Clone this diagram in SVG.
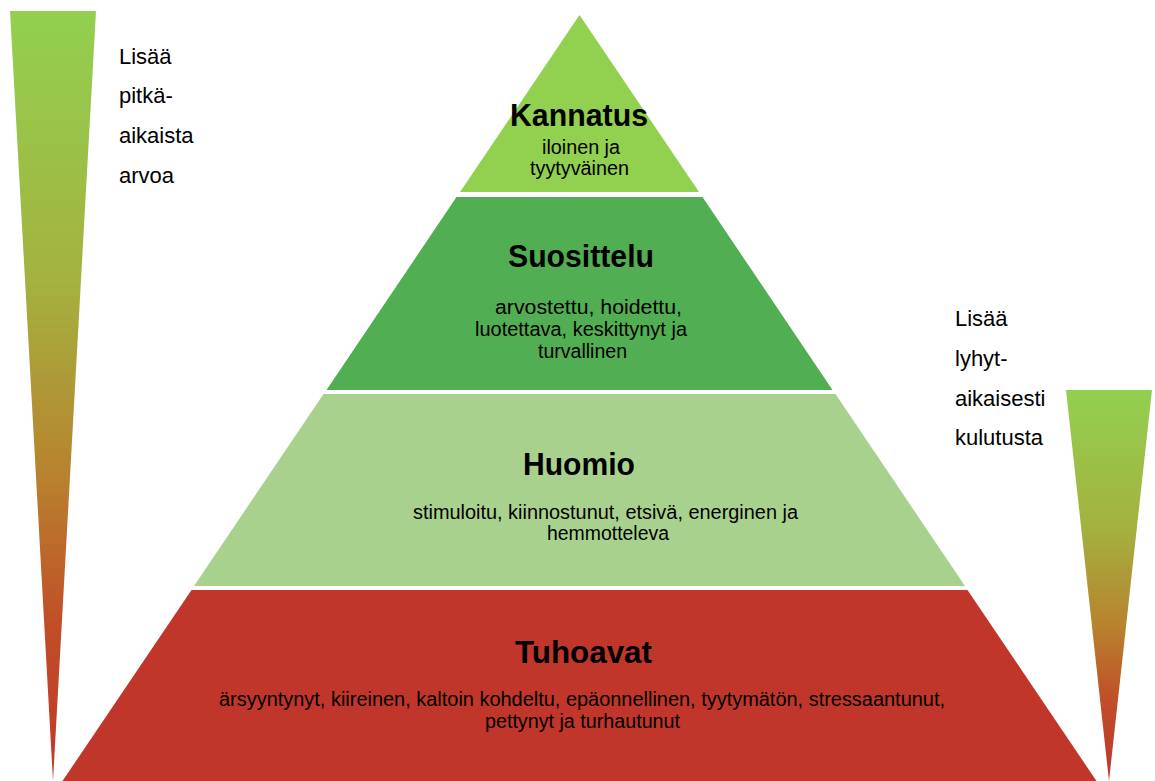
<svg xmlns="http://www.w3.org/2000/svg" width="1155" height="781" viewBox="0 0 1155 781">
  <style>
    text { font-family: "Liberation Sans", Arial, Helvetica, sans-serif; fill: #000; text-anchor: middle; }
    .title { font-size: 31px; font-weight: bold; }
    .sub { font-size: 19.5px; }
    .side { font-size: 22px; text-anchor: start; }
  </style>
  <defs>
    <linearGradient id="grad" x1="0" y1="0" x2="0" y2="1">
      <stop offset="0" stop-color="#92D050"/>
      <stop offset="0.35" stop-color="#A4B23F"/>
      <stop offset="0.6" stop-color="#B8832E"/>
      <stop offset="0.8" stop-color="#C04D28"/>
      <stop offset="1" stop-color="#C0372B"/>
    </linearGradient>
  </defs>
  <rect width="1155" height="781" fill="#FFFFFF"/>

  <g id="left-scale">
    <polygon points="10,11 96,11 53,781" fill="url(#grad)"/>
    <text class="side" x="119" y="64">Lisää</text>
    <text class="side" x="119" y="103">pitkä-</text>
    <text class="side" x="119" y="143">aikaista</text>
    <text class="side" x="119" y="183">arvoa</text>
  </g>

  <g id="right-scale">
    <polygon points="1066,390 1152,390 1109,781" fill="url(#grad)"/>
    <text class="side" x="955" y="326">Lisää</text>
    <text class="side" x="955" y="366">lyhyt-</text>
    <text class="side" x="955" y="406">aikaisesti</text>
    <text class="side" x="955" y="445">kulutusta</text>
  </g>

  <g id="tier-kannatus">
    <polygon points="579.5,15 699,192 460,192" fill="#92D050"/>
    <text class="title" x="579" y="126" textLength="138" lengthAdjust="spacingAndGlyphs">Kannatus</text>
    <text class="sub" x="581" y="154" textLength="78" lengthAdjust="spacingAndGlyphs">iloinen ja</text>
    <text class="sub" x="579.5" y="175" textLength="99" lengthAdjust="spacingAndGlyphs">tyytyväinen</text>
  </g>

  <g id="tier-suosittelu">
    <polygon points="456.5,197 702.5,197 832.5,390 326.5,390" fill="#52AE52"/>
    <text class="title" x="581" y="267" textLength="146" lengthAdjust="spacingAndGlyphs">Suosittelu</text>
    <text class="sub" x="588.5" y="314" textLength="187" lengthAdjust="spacingAndGlyphs">arvostettu, hoidettu,</text>
    <text class="sub" x="581" y="336" textLength="212" lengthAdjust="spacingAndGlyphs">luotettava, keskittynyt ja</text>
    <text class="sub" x="582.5" y="358" textLength="89" lengthAdjust="spacingAndGlyphs">turvallinen</text>
  </g>

  <g id="tier-huomio">
    <polygon points="323.5,394 835.5,394 965,586 194,586" fill="#A9D18E"/>
    <text class="title" x="579" y="475" textLength="112" lengthAdjust="spacingAndGlyphs">Huomio</text>
    <text class="sub" x="605.5" y="519" textLength="385" lengthAdjust="spacingAndGlyphs">stimuloitu, kiinnostunut, etsivä, energinen ja</text>
    <text class="sub" x="608" y="540" textLength="122" lengthAdjust="spacingAndGlyphs">hemmotteleva</text>
  </g>

  <g id="tier-tuhoavat">
    <polygon points="191.5,590 967.5,590 1096.5,781 62.5,781" fill="#C0362A"/>
    <text class="title" x="583.5" y="663" textLength="137" lengthAdjust="spacingAndGlyphs">Tuhoavat</text>
    <text class="sub" x="582" y="706" textLength="726" lengthAdjust="spacingAndGlyphs">ärsyyntynyt, kiireinen, kaltoin kohdeltu, epäonnellinen, tyytymätön, stressaantunut,</text>
    <text class="sub" x="582.5" y="728" textLength="195" lengthAdjust="spacingAndGlyphs">pettynyt ja turhautunut</text>
  </g>

  <g id="connectors"/>
</svg>
